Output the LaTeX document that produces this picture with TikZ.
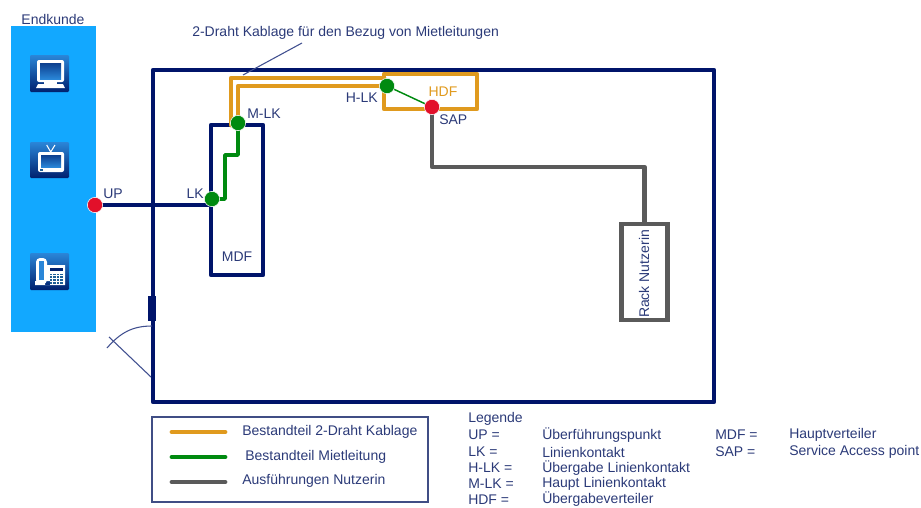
\documentclass[tikz,border=0pt]{standalone}
\usepackage{fontspec}
\setmainfont{Liberation Sans}
\usetikzlibrary{backgrounds}
\definecolor{navy}{HTML}{00146A}
\definecolor{txt}{HTML}{2B3A78}
\definecolor{skyb}{HTML}{12A8FF}
\definecolor{org}{HTML}{E09A1E}
\definecolor{grn}{HTML}{008A10}
\definecolor{gry}{HTML}{5A5A5A}
\definecolor{redd}{HTML}{E2102A}
\definecolor{icl}{HTML}{2A86D8}
\definecolor{icd}{HTML}{00206E}
\tikzset{
  x=0.75pt,y=-0.75pt,
  lab/.style={text=txt,font=\fontsize{10.5}{12}\selectfont,inner sep=0pt},
  left lab/.style={lab,anchor=west},
  dot/.style={circle,draw=white,line width=0.4pt,inner sep=0pt,minimum size=11.5pt},
  reddot/.style={dot,fill=redd},
  grndot/.style={dot,fill=grn},
  wall/.style={draw=navy,line width=3.4pt,line join=round},
  orgline/.style={draw=org,line width=3.6pt,line join=round,line cap=round},
  grnline/.style={draw=grn,line width=2.7pt,line join=round},
  gryline/.style={draw=gry,line width=3.6pt,line join=round},
  thin navy/.style={draw=navy!75!white,line width=0.8pt},
  whitepart/.style={fill=white,draw=none},
  icon computer/.pic={
    \path[shade,shading angle=135,top color=icl,bottom color=icd,rounded corners=0.8pt] (0,0) rectangle (39,37);
    \path[whitepart,rounded corners=1.5pt] (7,5) rectangle (34,27);
    \path[shade,top color=icd!70!icl,bottom color=icl] (10,8) rectangle (31,24);
    \path[whitepart] (14,27) rectangle (27,29);
    \path[whitepart] (6,33) -- (8,29) -- (33,29) -- (35,33) -- cycle;
  },
  icon tv/.pic={
    \path[shade,shading angle=135,top color=icl,bottom color=icd,rounded corners=0.8pt] (0,0) rectangle (39,36);
    \draw[white,line width=0.8pt] (20.7,10) -- (16.7,3) (20.7,10) -- (25,3);
    \path[whitepart,rounded corners=1.5pt] (8,10) rectangle (34,30);
    \path[shade,top color=icd!70!icl,bottom color=icl] (11,13) rectangle (31,25);
    \path[fill=icl!70!black] (10,27) rectangle (13,28.5);
  },
  icon phone/.pic={
    \path[shade,shading angle=135,top color=icl,bottom color=icd,rounded corners=0.8pt] (0,0) rectangle (39,37);
    \path[whitepart] (15,12) rectangle (35,32) (5,32) rectangle (20,28);
    \path[whitepart,rounded corners=3pt] (6,5) rectangle (17,31);
    \path[fill=icl] (9,8) rectangle (14,27);
    \path[fill=icd] (20,15) rectangle (33,18);
    \foreach \r in {0,1,2,3}{\foreach \c in {0,1,2,3}{
      \path[fill=icl!70!black] ({20+\c*3.4},{20.5+\r*2.8}) rectangle ++(2.4,1.9);
    }}
  }
}
\begin{document}
\begin{tikzpicture}
\useasboundingbox (0,0) rectangle (921,507);
\clip (0,0) rectangle (921,507);
% named nodes on top
\node[reddot] (UP) at (95,205) {};
\node[grndot] (LK) at (212,199) {};
\node[grndot] (MLK) at (238,123) {};
\node[grndot] (HLK) at (387,86) {};
\node[reddot] (SAP) at (432,107) {};
\node[lab] (endkunde) at (53,19) {Endkunde};
\node[lab,anchor=south west] (uplab) at (103,199) {UP};
\node[lab,anchor=south east] (lklab) at (204,199) {LK};
\node[left lab] (mlklab) at (247,114) {M-LK};
\node[lab,anchor=east] (hlklab) at (378,98) {H-LK};
\node[lab,text=org] (hdflab) at (443,92) {HDF};
\node[left lab] (saplab) at (439,120) {SAP};
\node[lab] (mdflab) at (237,257) {MDF};
\node[lab,rotate=90] (racklab) at (644,274) {Rack Nutzerin};
\node[left lab] (title) at (192,33) {2-Draht Kablage für den Bezug von Mietleitungen};
% legend box texts
\node[left lab] (l1) at (242,432) {Bestandteil 2-Draht Kablage};
\node[left lab] (l2) at (245,457) {Bestandteil Mietleitung};
\node[left lab] (l3) at (242,481) {Ausführungen Nutzerin};
\coordinate (k1a) at (172,432); \coordinate (k1b) at (225,432);
\coordinate (k2a) at (172,457); \coordinate (k2b) at (225,457);
\coordinate (k3a) at (172,482); \coordinate (k3b) at (225,482);
\node[left lab] (leg) at (468,419) {Legende};
\node[left lab] (a1) at (468,435) {UP =};
\node[left lab] (a2) at (468,452) {LK =};
\node[left lab] (a3) at (468,468) {H-LK =};
\node[left lab] (a4) at (468,484) {M-LK =};
\node[left lab] (a5) at (468,499.5) {HDF =};
\node[left lab] (b1) at (542,435) {Überführungspunkt};
\node[left lab] (b2) at (542,452) {Linienkontakt};
\node[left lab] (b3) at (542,468) {Übergabe Linienkontakt};
\node[left lab] (b4) at (542,484) {Haupt Linienkontakt};
\node[left lab] (b5) at (542,499.5) {Übergabeverteiler};
\node[left lab] (c1) at (715,435) {MDF =};
\node[left lab] (c2) at (715,452) {SAP =};
\node[left lab] (d1) at (789,435) {Hauptverteiler};
\node[left lab] (d2) at (789,452) {Service Access point};
\begin{scope}[on background layer]
  \path[fill=skyb] (11,26) rectangle (96,332);
  \path (30,55) pic {icon computer};
  \path (30,142) pic {icon tv};
  \path (30,253) pic {icon phone};
  \draw[wall] (153,70) rectangle (714,402);
  \fill[navy] (148,296) rectangle (156,321);
  \coordinate (arcA) at (152,326);
  \coordinate (arcB) at (107,348);
  \coordinate (leafA) at (109,337);
  \coordinate (leafB) at (151,377);
  \draw[thin navy] (arcA) .. controls (132,326) and (120,333) .. (arcB);
  \draw[thin navy] (leafA) -- (leafB);
  \draw[wall] (211,125) rectangle (263,275);
  \draw[draw=navy,line width=2.4pt] (UP.center) -- (UP -| LK);
  % orange
  \coordinate (oo) at (231,125);
  \coordinate (ot) at (384,78);
  \draw[orgline] (oo) |- (ot);
  \draw[orgline] (MLK.center) |- (HLK.center);
  \draw[orgline] (384,74) rectangle (477,109);
  % green
  \coordinate (gs) at (225,155);
  \draw[grnline] (MLK.center) |- (gs) |- (LK.center);
  \draw[draw=grn,line width=1.1pt] (HLK.center) -- (SAP.center);
  % grey
  \coordinate (gt) at (500,167);
  \node[draw=gry,line width=3.6pt,minimum width=34.5pt,minimum height=72pt,inner sep=0pt] (rack) at (644.5,272) {};
  \draw[gryline] (SAP.center) |- (gt) -| (rack.north);
  % callout
  \coordinate (cs) at (302,43);
  \coordinate (ce) at (243,75);
  \draw[thin navy] (cs) -- (ce);
  % legend
  \draw[draw=txt!90!white,line width=1.1pt] (152,417) rectangle (428,502);
  \draw[orgline] (k1a) -- (k1b);
  \draw[draw=grn,line width=3.6pt,line cap=round] (k2a) -- (k2b);
  \draw[draw=gry,line width=3.6pt,line cap=round] (k3a) -- (k3b);
\end{scope}
\end{tikzpicture}
\end{document}
